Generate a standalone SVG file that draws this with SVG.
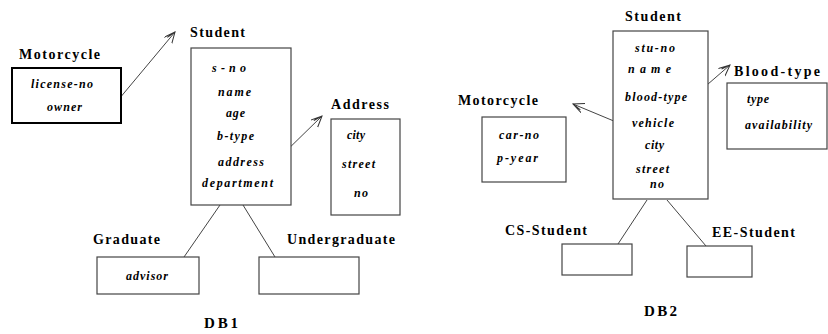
<svg xmlns="http://www.w3.org/2000/svg" width="828" height="334" viewBox="0 0 828 334">
<style>
.lbl{font-family:"Liberation Serif",serif;font-weight:bold;font-size:14px;fill:#000}
.att{font-family:"Liberation Serif",serif;font-weight:bold;font-style:italic;font-size:12px;fill:#000}
.ttl{font-family:"Liberation Serif",serif;font-weight:bold;font-size:15px;fill:#000}
.box{fill:#fff;stroke:#444;stroke-width:1.2}
.con{stroke:#444;stroke-width:1;fill:none}
</style>
<defs>
<marker id="ah" markerUnits="userSpaceOnUse" markerWidth="14" markerHeight="12" refX="11" refY="5" orient="auto" viewBox="0 0 14 12">
<path d="M0,0 L11,5 L0,10 M2,2.5 L11,5" fill="none" stroke="#333" stroke-width="1"/>
</marker>
</defs>
<rect width="828" height="334" fill="#fff"/>
<g id="connectors">
<line class="con" x1="114" y1="105" x2="175" y2="32" marker-end="url(#ah)"/>
<line class="con" x1="278" y1="159" x2="322" y2="116" marker-end="url(#ah)"/>
<line class="con" x1="220" y1="205" x2="184" y2="257"/>
<line class="con" x1="243" y1="205" x2="275" y2="257"/>
<line class="con" x1="700" y1="91" x2="730" y2="65" marker-end="url(#ah)"/>
<line class="con" x1="621" y1="124" x2="573" y2="104" marker-end="url(#ah)"/>
<line class="con" x1="647" y1="200" x2="618" y2="244"/>
<line class="con" x1="667" y1="200" x2="706" y2="246"/>
</g>
<g id="db1-motorcycle">
<text class="lbl" x="19" y="59" textLength="81" lengthAdjust="spacing">Motorcycle</text>
<rect x="12" y="68" width="109" height="55" fill="#fff" stroke="#000" stroke-width="2"/>
<text class="att" x="31" y="88" textLength="62" lengthAdjust="spacing">license-no</text>
<text class="att" x="47" y="111" textLength="35" lengthAdjust="spacing">owner</text>
</g>
<g id="db1-student">
<text class="lbl" x="190" y="37" textLength="55" lengthAdjust="spacing">Student</text>
<rect class="box" x="191" y="48" width="100" height="157"/>
<text class="att" x="212" y="72" textLength="34" lengthAdjust="spacing">s-no</text>
<text class="att" x="218" y="96" textLength="33" lengthAdjust="spacing">name</text>
<text class="att" x="226" y="117" textLength="19" lengthAdjust="spacing">age</text>
<text class="att" x="217" y="140" textLength="37" lengthAdjust="spacing">b-type</text>
<text class="att" x="218" y="166" textLength="46" lengthAdjust="spacing">address</text>
<text class="att" x="202" y="187" textLength="71" lengthAdjust="spacing">department</text>
</g>
<g id="db1-address">
<text class="lbl" x="331" y="109" textLength="58" lengthAdjust="spacing">Address</text>
<rect class="box" x="331" y="119" width="69" height="96"/>
<text class="att" x="347" y="139" textLength="18" lengthAdjust="spacing">city</text>
<text class="att" x="342" y="168" textLength="33" lengthAdjust="spacing">street</text>
<text class="att" x="354" y="197" textLength="14" lengthAdjust="spacing">no</text>
</g>
<g id="db1-graduate">
<text class="lbl" x="93" y="244" textLength="67" lengthAdjust="spacing">Graduate</text>
<rect class="box" x="97" y="257" width="102" height="37"/>
<text class="att" x="126" y="280" textLength="42" lengthAdjust="spacing">advisor</text>
</g>
<g id="db1-undergraduate">
<text class="lbl" x="287" y="244" textLength="108" lengthAdjust="spacing">Undergraduate</text>
<rect class="box" x="259" y="257" width="100" height="37"/>
</g>
<g id="db1-title">
<text class="ttl" x="204" y="328" textLength="34" lengthAdjust="spacing">DB1</text>
</g>
<g id="db2-student">
<text class="lbl" x="625" y="21" textLength="56" lengthAdjust="spacing">Student</text>
<rect class="box" x="613" y="31" width="95" height="168"/>
<text class="att" x="635" y="52" textLength="40" lengthAdjust="spacing">stu-no</text>
<text class="att" x="628" y="73" textLength="43" lengthAdjust="spacing">name</text>
<text class="att" x="625" y="101" textLength="62" lengthAdjust="spacing">blood-type</text>
<text class="att" x="632" y="127" textLength="42" lengthAdjust="spacing">vehicle</text>
<text class="att" x="645" y="149" textLength="19" lengthAdjust="spacing">city</text>
<text class="att" x="636" y="173" textLength="33" lengthAdjust="spacing">street</text>
<text class="att" x="650" y="188" textLength="14" lengthAdjust="spacing">no</text>
</g>
<g id="db2-bloodtype">
<text class="lbl" x="734" y="76" textLength="86" lengthAdjust="spacing">Blood-type</text>
<rect class="box" x="727" y="83" width="100" height="66"/>
<text class="att" x="747" y="103" textLength="22" lengthAdjust="spacing">type</text>
<text class="att" x="745" y="129" textLength="67" lengthAdjust="spacing">availability</text>
</g>
<g id="db2-motorcycle">
<text class="lbl" x="458" y="105" textLength="80" lengthAdjust="spacing">Motorcycle</text>
<rect class="box" x="482" y="117" width="84" height="65"/>
<text class="att" x="499" y="139" textLength="40" lengthAdjust="spacing">car-no</text>
<text class="att" x="497" y="162" textLength="41" lengthAdjust="spacing">p-year</text>
</g>
<g id="db2-cs-student">
<text class="lbl" x="505" y="235" textLength="82" lengthAdjust="spacing">CS-Student</text>
<rect class="box" x="562" y="244" width="70" height="31"/>
</g>
<g id="db2-ee-student">
<text class="lbl" x="712" y="237" textLength="83" lengthAdjust="spacing">EE-Student</text>
<rect class="box" x="687" y="246" width="65" height="31"/>
</g>
<g id="db2-title">
<text class="ttl" x="644" y="316" textLength="33" lengthAdjust="spacing">DB2</text>
</g>
</svg>
